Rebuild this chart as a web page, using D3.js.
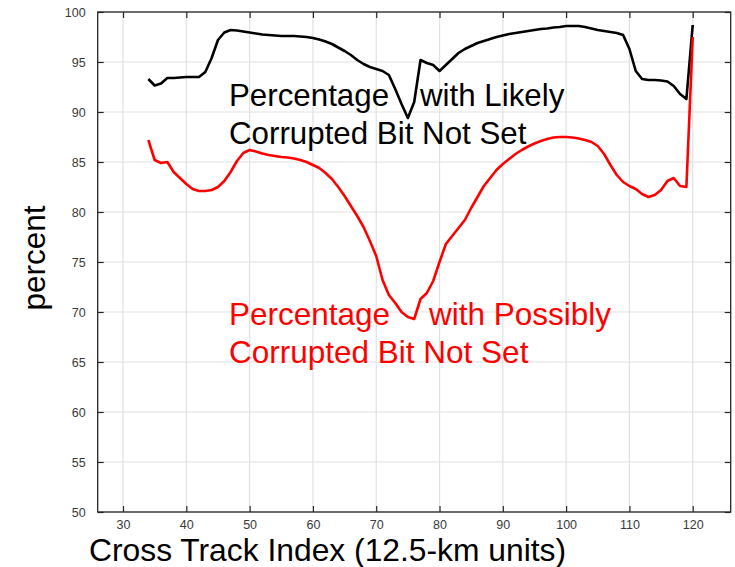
<!DOCTYPE html>
<html>
<head>
<meta charset="utf-8">
<script src="https://cdn.jsdelivr.net/npm/d3@7/dist/d3.min.js"></script>
<style>
  html, body { margin: 0; padding: 0; background: #fff; }
  svg { display: block; }
  text { font-family: "Liberation Sans", Arial, sans-serif; }
</style>
</head>
<body>
<svg id="chart" width="735" height="567"></svg>
<script>
// Cross-track index (12.5-km units)
const crossTrack = [
  34, 35, 36, 37, 38, 39, 40, 41, 42, 43, 44, 45, 46, 47, 48, 49, 50, 51, 52, 53,
  54, 55, 56, 57, 58, 59, 60, 61, 62, 63, 64, 65, 66, 67, 68, 69, 70, 71, 72, 73,
  74, 75, 76, 77, 78, 79, 80, 81, 82, 83, 84, 85, 86, 87, 88, 89, 90, 91, 92, 93,
  94, 95, 96, 97, 98, 99, 100, 101, 102, 103, 104, 105, 106, 107, 108, 109, 110, 111, 112, 113,
  114, 115, 116, 117, 118, 119, 120
];

// Percentage with "likely corrupted" bit not set
const likelyNotSet = [
  93.3, 92.65, 92.85, 93.4, 93.4, 93.45, 93.5, 93.5, 93.5, 94.0, 95.4, 97.2, 97.95, 98.2, 98.15, 98.05, 97.95, 97.85, 97.75, 97.7,
  97.65, 97.6, 97.6, 97.6, 97.55, 97.5, 97.4, 97.25, 97.05, 96.8, 96.45, 96.1, 95.7, 95.2, 94.8, 94.5, 94.3, 94.1, 93.7, 92.3,
  90.8, 89.4, 91.0, 95.2, 94.9, 94.7, 94.1, 94.7, 95.3, 95.9, 96.3, 96.6, 96.9, 97.1, 97.3, 97.5, 97.65, 97.8, 97.9, 98.0,
  98.1, 98.2, 98.3, 98.35, 98.45, 98.5, 98.6, 98.6, 98.6, 98.5, 98.35, 98.2, 98.1, 98.0, 97.9, 97.7, 96.3, 94.1, 93.3, 93.2,
  93.2, 93.15, 93.05, 92.6, 91.8, 91.3, 98.7
];

// Percentage with "possibly corrupted" bit not set
const possiblyNotSet = [
  87.2, 85.2, 84.9, 85.0, 84.0, 83.4, 82.8, 82.3, 82.1, 82.1, 82.2, 82.5, 83.1, 84.0, 85.1, 85.9, 86.2, 86.05, 85.85, 85.7,
  85.6, 85.5, 85.45, 85.35, 85.2, 85.0, 84.7, 84.4, 83.9, 83.3, 82.5, 81.6, 80.6, 79.6, 78.5, 77.1, 75.6, 73.2, 71.7, 70.9,
  70.0, 69.5, 69.3, 71.3, 71.9, 73.1, 75.0, 76.8, 77.6, 78.4, 79.2, 80.4, 81.5, 82.6, 83.4, 84.2, 84.8, 85.3, 85.8, 86.2,
  86.55, 86.85, 87.1, 87.3, 87.45, 87.5, 87.5, 87.45, 87.35, 87.2, 87.0, 86.6, 85.8, 84.7, 83.7, 83.0, 82.6, 82.3, 81.8, 81.5,
  81.7, 82.2, 83.1, 83.4, 82.6, 82.5, 97.5
];

const xTicks = [30, 40, 50, 60, 70, 80, 90, 100, 110, 120];
const yTicks = [50, 55, 60, 65, 70, 75, 80, 85, 90, 95, 100];

const svg = d3.select("#chart");
const plotLeft = 97.7, plotRight = 730.7, plotTop = 12, plotBottom = 512;

const x = d3.scaleLinear().domain([26, 126]).range([plotLeft, plotRight]);
const y = d3.scaleLinear().domain([50, 100]).range([plotBottom, plotTop]);

// grid
const grid = svg.append("g").attr("stroke", "#e1e1e1").attr("stroke-width", 1.2);
grid.selectAll("line.gx").data(xTicks).join("line")
  .attr("x1", d => x(d)).attr("x2", d => x(d))
  .attr("y1", plotTop).attr("y2", plotBottom);
grid.selectAll("line.gy").data(yTicks).join("line")
  .attr("x1", plotLeft).attr("x2", plotRight)
  .attr("y1", d => y(d)).attr("y2", d => y(d));

// axes with inward ticks on all four sides
const axisColor = "#262626";
function styleAxis(g) {
  g.select(".domain").remove();
  g.selectAll(".tick line").attr("stroke", axisColor).attr("stroke-width", 1.2);
  g.selectAll(".tick text").attr("fill", "#3a3a3a")
    .style("font-size", "12.5px").style("font-family", "'Liberation Sans', Arial, sans-serif");
}
svg.append("g").attr("transform", `translate(0,${plotBottom})`)
  .call(d3.axisBottom(x).tickValues(xTicks).tickSizeInner(-6).tickSizeOuter(0).tickPadding(8))
  .call(styleAxis);
svg.append("g").attr("transform", `translate(0,${plotTop})`)
  .call(d3.axisTop(x).tickValues(xTicks).tickSizeInner(-6).tickSizeOuter(0).tickFormat(""))
  .call(styleAxis);
svg.append("g").attr("transform", `translate(${plotLeft},0)`)
  .call(d3.axisLeft(y).tickValues(yTicks).tickSizeInner(-6).tickSizeOuter(0).tickPadding(12))
  .call(styleAxis);
svg.append("g").attr("transform", `translate(${plotRight},0)`)
  .call(d3.axisRight(y).tickValues(yTicks).tickSizeInner(-6).tickSizeOuter(0).tickFormat(""))
  .call(styleAxis);

// frame
svg.append("rect")
  .attr("x", plotLeft).attr("y", plotTop)
  .attr("width", plotRight - plotLeft).attr("height", plotBottom - plotTop)
  .attr("fill", "none").attr("stroke", axisColor).attr("stroke-width", 1.3);

// series
const line = vals => d3.line()
  .x((d, i) => x(crossTrack[i]))
  .y(d => y(d))(vals);

svg.append("path").attr("d", line(likelyNotSet))
  .attr("fill", "none").attr("stroke", "#000").attr("stroke-width", 2.6)
  .attr("stroke-linejoin", "round");
svg.append("path").attr("d", line(possiblyNotSet))
  .attr("fill", "none").attr("stroke", "#ff0000").attr("stroke-width", 2.6)
  .attr("stroke-linejoin", "round");

// annotations
function label(lines, x0, y0, color, gapX, size) {
  const t = svg.append("text").attr("fill", color).style("font-size", size + "px");
  lines.forEach((ln, i) => {
    if (Array.isArray(ln)) {
      t.append("tspan").attr("x", x0).attr("y", y0 + i * 38).text(ln[0]);
      t.append("tspan").attr("x", gapX).text(ln[1]);
    } else {
      t.append("tspan").attr("x", x0).attr("y", y0 + i * 38).text(ln);
    }
  });
}
label([["Percentage", "with Likely"], "Corrupted Bit Not Set"], 229, 106, "#000", 420, 31.3);
label([["Percentage", "with Possibly"], "Corrupted Bit Not Set"], 229, 325, "#ff0000", 429, 31.5);

// axis titles
svg.append("text")
  .attr("x", 89).attr("y", 561)
  .style("font-size", "31.8px").attr("fill", "#000")
  .text("Cross Track Index (12.5-km units)");
svg.append("text")
  .attr("transform", "translate(45,258) rotate(-90)")
  .attr("text-anchor", "middle")
  .style("font-size", "31.5px").attr("fill", "#000")
  .text("percent");
</script>
</body>
</html>
